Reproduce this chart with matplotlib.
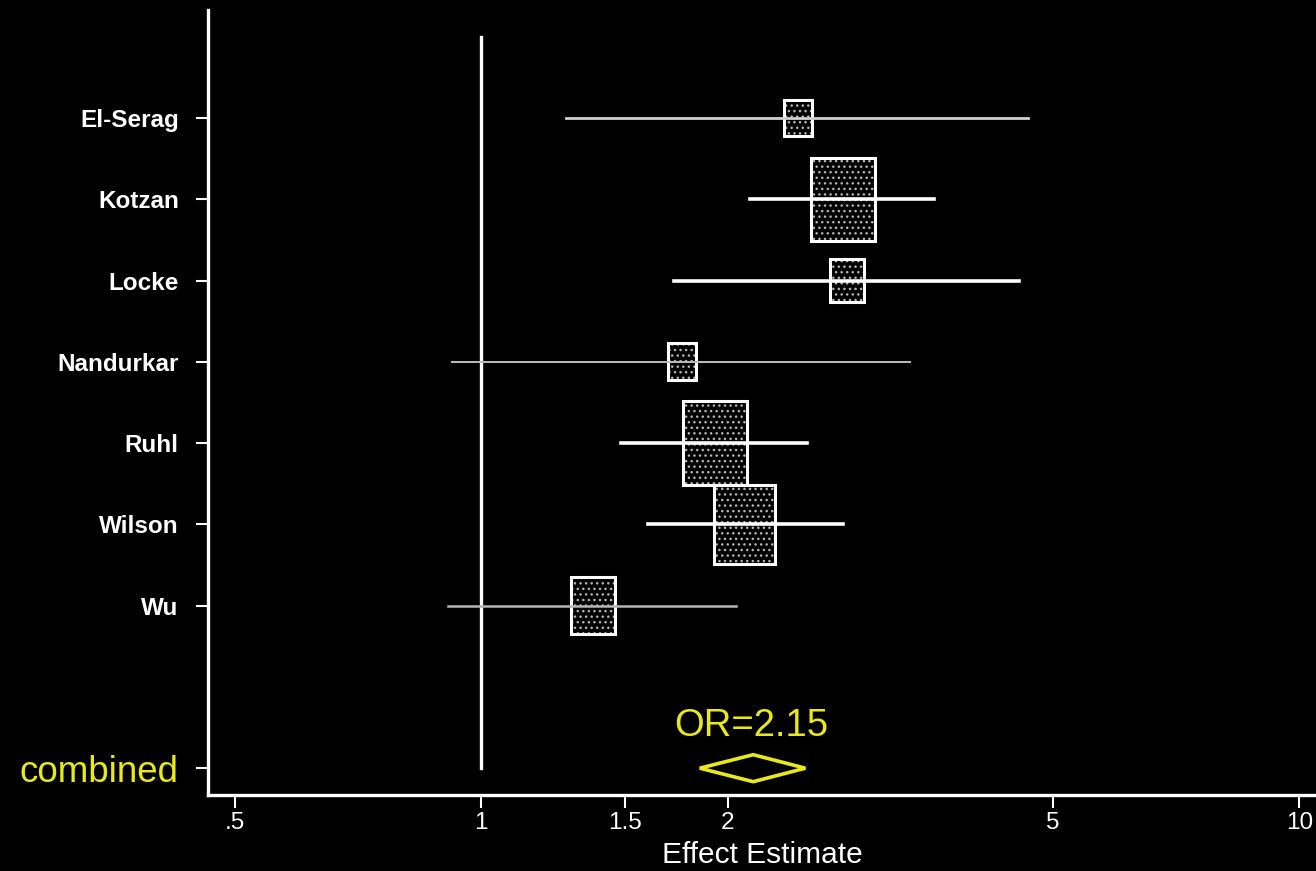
import numpy as np
import matplotlib.pyplot as plt
from matplotlib.patches import Rectangle, Polygon

plt.rcParams['font.family'] = ['Liberation Sans', 'DejaVu Sans']

studies = ['El-Serag', 'Kotzan', 'Locke', 'Nandurkar', 'Ruhl', 'Wilson', 'Wu']
est = [2.44, 2.77, 2.80, 1.76, 1.93, 2.10, 1.37]
lo = [1.27, 2.13, 1.72, 0.92, 1.48, 1.60, 0.91]
hi = [4.66, 3.58, 4.54, 3.34, 2.50, 2.77, 2.05]
weights = [4.5, 24.8, 6.8, 4.8, 25.1, 22.5, 11.4]
pooled, pooled_lo, pooled_hi = 2.15, 1.85, 2.49

xticks = [0.5, 1, 1.5, 2, 5, 10]
xticklabels = ['.5', '1', '1.5', '2', '5', '10']

# line look of each study's CI
ci_color = ['#d0d0d0', 'white', 'white', '#bdbdbd', 'white', 'white', '#b5b5b5']
ci_lw = [2.0, 2.6, 2.6, 1.4, 2.6, 2.6, 1.8]

yellow = '#e8e81c'
W, H, DPI = 13.16, 8.71, 100
fig = plt.figure(figsize=(W, H), dpi=DPI, facecolor='black')
ax = fig.add_axes([208 / 1316, 76 / 871, 1 - 208 / 1316 + 0.001, 785 / 871])
ax.set_facecolor('black')

xmin, xmax = 0.4634, 10.52
ymin, ymax = -1.33, 8.33
ax.set_xscale('log')
ax.set_xlim(xmin, xmax)
ax.set_ylim(ymax, ymin)

# pixel scales used to size the weight boxes
ax_w_px = ax.get_position().width * W * DPI
ax_h_px = ax.get_position().height * H * DPI
px_per_dec = ax_w_px / np.log10(xmax / xmin)
px_per_row = ax_h_px / (ymax - ymin)

ax.plot([1, 1], [-1, 8], color='white', lw=2.4, zorder=1)

ypos = np.arange(len(studies))
for i, y in enumerate(ypos):
    side = 12.9 * np.sqrt(weights[i])
    hw = side / 2 / px_per_dec
    hh = 1.3 * side / 2 / px_per_row
    x0, x1 = est[i] * 10 ** (-hw), est[i] * 10 ** hw
    ax.add_patch(Rectangle((x0, y - hh), x1 - x0, 2 * hh, facecolor='black',
                           edgecolor='#b4b4b4', hatch='...', lw=0, zorder=3))
    ax.add_patch(Rectangle((x0, y - hh), x1 - x0, 2 * hh, fill=False,
                           edgecolor='white', lw=2.2, zorder=4))
    ax.plot([lo[i], hi[i]], [y, y], color=ci_color[i], lw=ci_lw[i], zorder=5)

# pooled estimate diamond
yc = 8
dh = 13.5 / px_per_row
ax.add_patch(Polygon([(pooled_lo, yc), (pooled, yc - dh), (pooled_hi, yc), (pooled, yc + dh)],
                     closed=True, fill=False, edgecolor=yellow, lw=2.6, zorder=4))
ax.text(pooled * 0.995, yc - 0.52, f'OR={pooled}', color=yellow, fontsize=27.5,
        ha='center', va='center')

ax.set_xticks(xticks)
ax.set_xticklabels(xticklabels)
ax.xaxis.set_minor_locator(plt.NullLocator())
ax.tick_params(axis='x', colors='white', labelsize=17.5, length=9, width=1.5, pad=3)
ax.tick_params(axis='y', colors='white', length=9, width=1.5, pad=12)
ax.set_xlabel('Effect Estimate', color='white', fontsize=21.5, labelpad=5)

ax.set_yticks(list(ypos) + [8])
ax.set_yticklabels(studies + ['combined'])
for lab in ax.get_yticklabels()[:-1]:
    lab.set_fontsize(17.5)
    lab.set_fontweight('bold')
    lab.set_color('white')
comb = ax.get_yticklabels()[-1]
comb.set_fontsize(26.5)
comb.set_color(yellow)

for s in ['top', 'right']:
    ax.spines[s].set_visible(False)
for s in ['left', 'bottom']:
    ax.spines[s].set_color('white')
    ax.spines[s].set_linewidth(2.4)

fig.savefig('out.png', dpi=DPI, facecolor='black')
